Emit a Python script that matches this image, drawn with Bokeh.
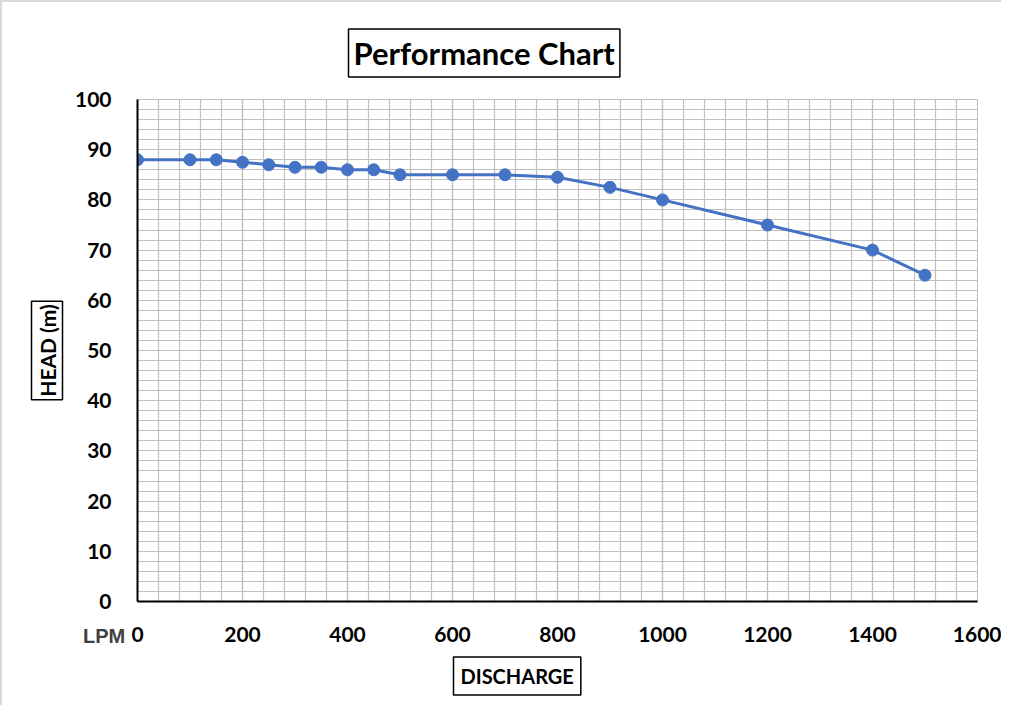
from bokeh.plotting import figure
from bokeh.models import FixedTicker, Title
from bokeh.embed import file_html
from bokeh.resources import INLINE

# ---- data ----
discharge_lpm = [0, 100, 150, 200, 250, 300, 350, 400, 450, 500, 600, 700, 800, 900, 1000, 1200, 1400, 1500]
head_m = [88, 88, 88, 87.5, 87, 86.5, 86.5, 86, 86, 85, 85, 85, 84.5, 82.5, 80, 75, 70, 65]
x_ticks = [0, 200, 400, 600, 800, 1000, 1200, 1400, 1600]
y_ticks = [0, 10, 20, 30, 40, 50, 60, 70, 80, 90, 100]
x_minor = list(range(0, 1601, 40))
y_minor = list(range(0, 101, 2))

title_text = "Performance Chart"
x_label_text = "DISCHARGE"
y_label_text = "HEAD (m)"
unit_text = "LPM"

FONT = "Lato"
BLUE = "#4472C4"
GRID = "#bfbfbf"

p = figure(width=1001, height=705, x_range=(0, 1600), y_range=(0, 100),
           output_backend="svg", toolbar_location=None,
           min_border_left=135, min_border_right=26, min_border_top=97, min_border_bottom=106)
p.styles = {"border-left": "2px solid #d9d9d9", "border-top": "2px solid #d9d9d9"}
p.background_fill_color = "white"
p.border_fill_color = "white"
p.outline_line_color = GRID
p.outline_line_width = 1

p.xaxis.ticker = FixedTicker(ticks=x_ticks, minor_ticks=x_minor)
p.yaxis.ticker = FixedTicker(ticks=y_ticks, minor_ticks=y_minor)
for ax in (p.xaxis, p.yaxis):
    ax.axis_line_color = "black"
    ax.axis_line_width = 2
    ax.major_tick_line_color = None
    ax.minor_tick_line_color = None
    ax.major_label_text_font = FONT
    ax.major_label_text_font_style = "bold"
    ax.major_label_text_font_size = "21px"
    ax.major_label_text_color = "black"
p.xaxis.major_label_standoff = 19
p.yaxis.major_label_standoff = 20

# unit label "LPM" as the x-axis label, pulled up beside the "0" tick label
xa = p.xaxis[0]
xa.axis_label = unit_text + "\u00a0" * 12
xa.axis_label_text_font = "Liberation Sans"
xa.axis_label_text_font_style = "bold"
xa.axis_label_text_font_size = "20px"
xa.axis_label_text_color = "#404040"
try:
    xa.axis_label_standoff = -20
except Exception:
    xa.axis_label_standoff = 0
try:
    xa.axis_label_align = "start"
except Exception:
    pass

for g in (p.xgrid, p.ygrid):
    g.grid_line_color = GRID
    g.grid_line_width = 1.2
    g.minor_grid_line_color = GRID
    g.minor_grid_line_width = 1.2

p.line(discharge_lpm, head_m, line_color=BLUE, line_width=3)
p.scatter(discharge_lpm, head_m, size=12, fill_color=BLUE, line_color=BLUE)

box = dict(background_fill_color="white", border_line_color="black", border_line_width=1.5)

p.title.text = title_text
p.title.align = "left"
p.title.offset = 211
p.title.standoff = 45
p.title.text_font = FONT
p.title.text_font_style = "bold"
p.title.text_font_size = "31px"
p.title.text_color = "black"
p.title.padding = 5
p.title.background_fill_color = "white"
p.title.border_line_color = "black"
p.title.border_line_width = 1.5

p.add_layout(Title(text=y_label_text, align="center", standoff=18, text_font=FONT,
                   text_font_style="bold", text_font_size="21px", text_color="black",
                   padding=3, **box), "left")
p.add_layout(Title(text=x_label_text, align="left", offset=316, standoff=11, text_font=FONT,
                   text_font_style="bold", text_font_size="20px", text_color="black",
                   padding=7, **box), "below")

open("out.html", "w").write(file_html(p, INLINE))
